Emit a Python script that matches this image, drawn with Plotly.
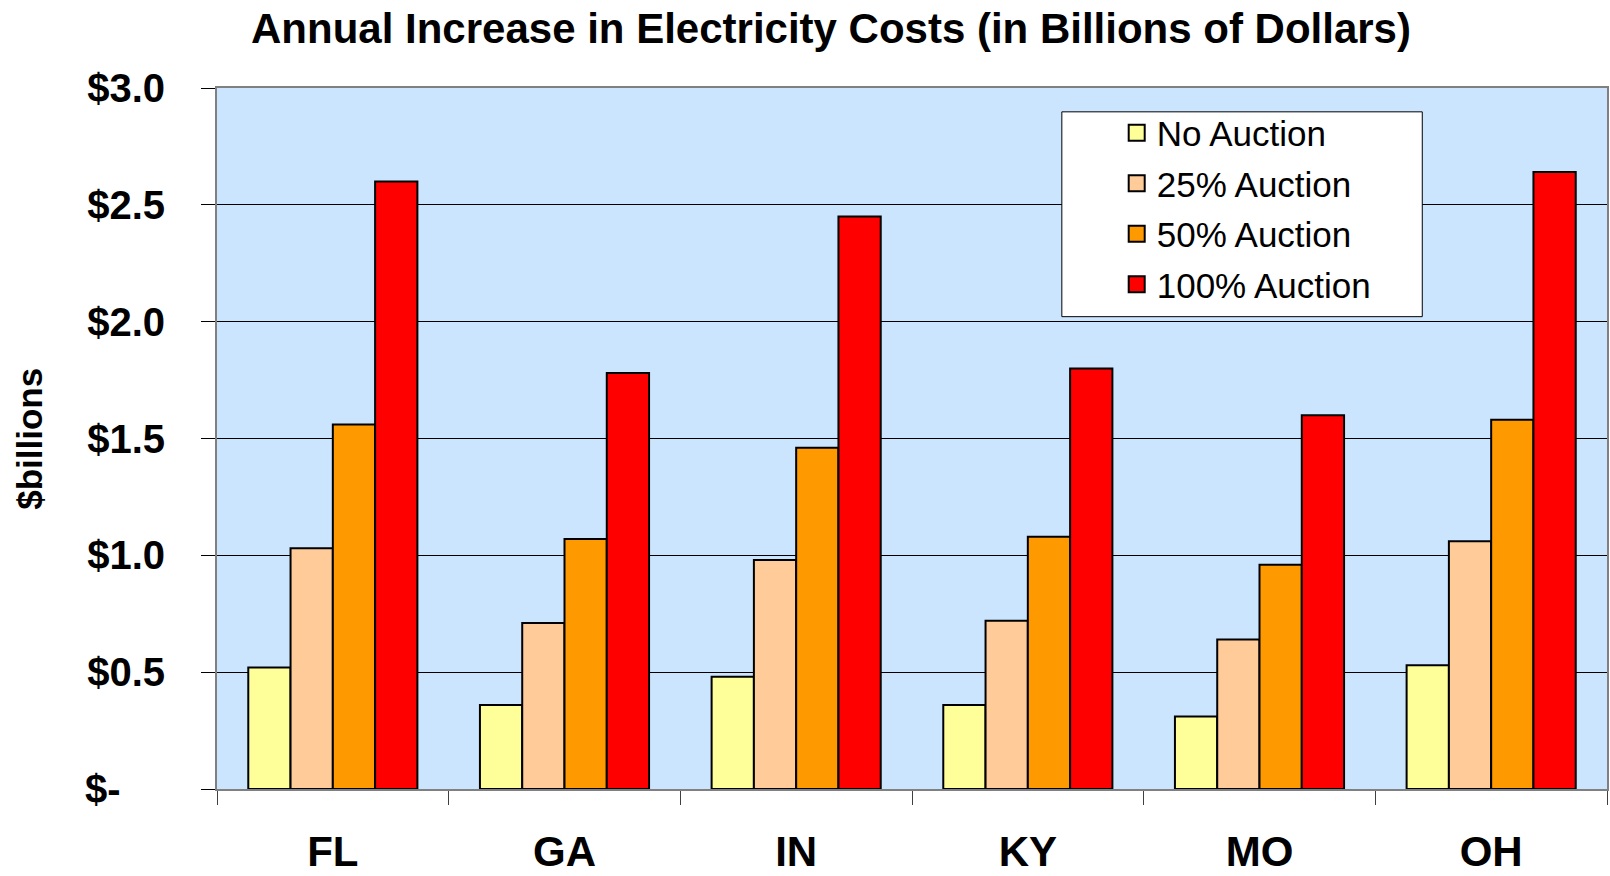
import plotly.graph_objects as go

# States and annual cost increase (billions of dollars) under each auction scenario
states = ["FL", "GA", "IN", "KY", "MO", "OH"]
no_auction = [0.52, 0.36, 0.48, 0.36, 0.31, 0.53]
auction_25 = [1.03, 0.71, 0.98, 0.72, 0.64, 1.06]
auction_50 = [1.56, 1.07, 1.46, 1.08, 0.96, 1.58]
auction_100 = [2.60, 1.78, 2.45, 1.80, 1.60, 2.64]

series_names = ["No Auction", "25% Auction", "50% Auction", "100% Auction"]
series_values = [no_auction, auction_25, auction_50, auction_100]
series_colors = ["#FFFF99", "#FFCC99", "#FF9900", "#FF0000"]

y_tick_vals = [0, 0.5, 1.0, 1.5, 2.0, 2.5, 3.0]
y_tick_text = ["$-\u00a0\u00a0\u00a0\u00a0", "$0.5", "$1.0", "$1.5", "$2.0", "$2.5", "$3.0"]

FONT = "Liberation Sans, Arial, sans-serif"

fig = go.Figure()

for i, (name, vals, color) in enumerate(zip(series_names, series_values, series_colors)):
    fig.add_trace(go.Bar(
        x=states, y=vals, name=name,
        marker=dict(color=color, line=dict(color="black", width=2)),
        showlegend=False,
    ))
    # legend swatch
    fig.add_trace(go.Scatter(
        x=[None], y=[None], mode="markers", name=name,
        legendgroup=f"g{i}",
        marker=dict(symbol="square", size=16, color=color,
                    line=dict(color="black", width=2)),
    ))

# white legend box
fig.add_shape(type="rect", xref="paper", yref="paper",
              x0=0.6078, x1=0.8671, y0=0.6738, y1=0.9660,
              fillcolor="white", line=dict(color="black", width=1),
              layer="above")

# y-axis title
fig.add_annotation(text="<b>$billions</b>", xref="paper", yref="paper",
                   x=(29 - 217) / 1392, y=0.5, textangle=-90,
                   showarrow=False, xanchor="center", yanchor="middle",
                   font=dict(family=FONT, size=35, color="black"))

fig.update_layout(
    width=1610, height=876,
    margin=dict(l=217, r=1, t=88, b=83),
    paper_bgcolor="white",
    plot_bgcolor="#CCE5FF",
    barmode="group", bargap=0.27, bargroupgap=0,
    title=dict(text="<b>Annual Increase in Electricity Costs (in Billions of Dollars)</b>",
               xref="container", yref="container",
               x=831 / 1610, y=1 - 28 / 876, xanchor="center", yanchor="middle",
               font=dict(family=FONT, size=42, color="black")),
    legend=dict(x=(1118 - 217) / 1392, y=0.978, xanchor="left", yanchor="top",
                bgcolor="rgba(0,0,0,0)", borderwidth=0,
                font=dict(family=FONT, size=35, color="black"),
                tracegroupgap=2, itemwidth=30),
    xaxis=dict(
        type="category", range=[-0.5, 5.5],
        showgrid=False, tickson="boundaries",
        ticks="outside", ticklen=14, tickwidth=1, tickcolor="#404040",
        showline=True, linecolor="#808080", linewidth=2, mirror=True,
        tickfont=dict(family=FONT, size=42, color="black", weight="bold"),
        ticklabelstandoff=25,
    ),
    yaxis=dict(
        range=[0, 3.0], tickvals=y_tick_vals, ticktext=y_tick_text,
        showgrid=True, gridcolor="black", gridwidth=1,
        ticks="outside", ticklen=14, tickwidth=1, tickcolor="black",
        showline=True, linecolor="#808080", linewidth=2, mirror=True,
        zeroline=False,
        tickfont=dict(family=FONT, size=40, color="black", weight="bold"),
        ticklabelstandoff=28,
    ),
)

fig.write_html("out.html")
